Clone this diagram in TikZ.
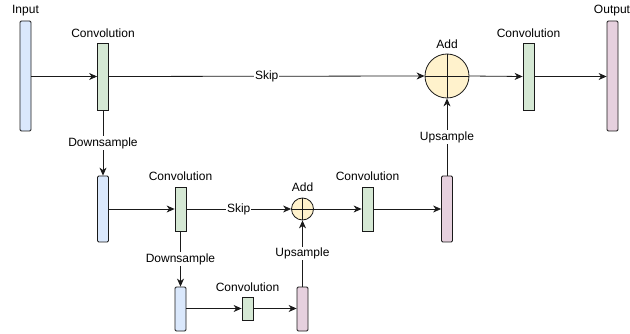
\documentclass[tikz,border=0pt]{standalone}
\usepackage{fontspec}
\setmainfont{Liberation Sans}
\usetikzlibrary{arrows.meta}
\definecolor{inblue}{HTML}{DAE8FC}
\definecolor{convgreen}{HTML}{D5E8D4}
\definecolor{addyellow}{HTML}{FFF2CC}
\definecolor{outpink}{HTML}{E6D0DE}
\definecolor{edgegray}{HTML}{1A1A1A}
\tikzset{
  bar/.style={draw=edgegray, line width=0.8pt, rounded corners=1.2pt, inner sep=0pt,
    minimum width=11pt},
  inbar/.style={bar, fill=inblue},
  convbar/.style={bar, fill=convgreen, rounded corners=0pt},
  outbar/.style={bar, fill=outpink},
  sumnode/.style={draw=edgegray, line width=0.8pt, circle, fill=addyellow, inner sep=0pt},
  txt/.style={font=\fontsize{12pt}{14pt}\selectfont, inner sep=1pt},
  elabel/.style={txt, fill=white, inner sep=1pt},
  flow/.style={draw=edgegray, line width=0.8pt, -{Stealth[length=8pt,width=7pt,inset=2.5pt]}},
}
\begin{document}
\begin{tikzpicture}[x=1pt,y=-1pt]
  \useasboundingbox (0,0) rectangle (630,334);

  % top level
  \node[inbar,  minimum height=110pt] (in)    at (25.5,76) {};
  \node[convbar,minimum height=67pt]  (c1)    at (103,76.5) {};
  \node[sumnode,minimum size=44pt]    (add1)  at (447,76) {};
  \node[convbar,minimum height=67pt]  (cr)    at (528.5,76.5) {};
  \node[outbar, minimum height=110pt] (out)   at (612.5,76) {};

  % middle level
  \node[inbar,  minimum height=66pt]  (b2)    at (103,209) {};
  \node[convbar,minimum height=44pt]  (c2)    at (180.5,209) {};
  \node[sumnode,minimum size=22pt]    (add2)  at (302.5,209) {};
  \node[convbar,minimum height=44pt]  (c4)    at (367.5,209) {};
  \node[outbar, minimum height=66pt]  (p2)    at (447,209) {};

  % bottom level
  \node[inbar,  minimum height=44pt]  (b3)    at (180.5,309) {};
  \node[convbar,minimum height=23pt]  (c3)    at (247.5,308.5) {};
  \node[outbar, minimum height=44pt]  (p3)    at (302.5,309) {};

  % crosses inside the adders
  \foreach \s in {add1,add2}{
    \draw[edgegray, line width=0.8pt] (\s.north) -- (\s.south);
    \draw[edgegray, line width=0.8pt] (\s.west) -- (\s.east);
  }

  % captions
  \node[txt] (lin)   at (25.5,11) {Input};
  \node[txt] (lout)  at (612,11) {Output};
  \node[txt] (lc1)   at (103,33) {Convolution};
  \node[txt] (lcr)   at (528.5,33) {Convolution};
  \node[txt] (ladd1) at (447,44) {Add};
  \node[txt] (lc2)   at (180.5,176) {Convolution};
  \node[txt] (lc4)   at (367.5,176) {Convolution};
  \node[txt] (ladd2) at (302.5,187) {Add};
  \node[txt] (lc3)   at (247.5,287) {Convolution};

  % connectors
  \draw[flow] (in.east |- c1.west) -- (c1.west);
  \draw[flow] (c1.east) -- node[elabel] {Skip} (add1.west);
  \draw[flow] (add1.east) -- (cr.west);
  \draw[flow] (cr.east) -- (out.west |- cr.east);
  \draw[flow] (c1.south) -- node[elabel] {Downsample} (b2.north);
  \draw[flow] (b2.east) -- (c2.west);
  \draw[flow] (c2.east) -- node[elabel] {Skip} (add2.west);
  \draw[flow] (add2.east) -- (c4.west);
  \draw[flow] (c4.east) -- (p2.west);
  \draw[flow] (p2.north) -- node[elabel] {Upsample} (add1.south);
  \draw[flow] (c2.south) -- node[elabel] {Downsample} (b3.north);
  \draw[flow] (b3.east |- c3.west) -- (c3.west);
  \draw[flow] (c3.east) -- (p3.west |- c3.east);
  \draw[flow] (p3.north) -- node[elabel] {Upsample} (add2.south);
\end{tikzpicture}
\end{document}
